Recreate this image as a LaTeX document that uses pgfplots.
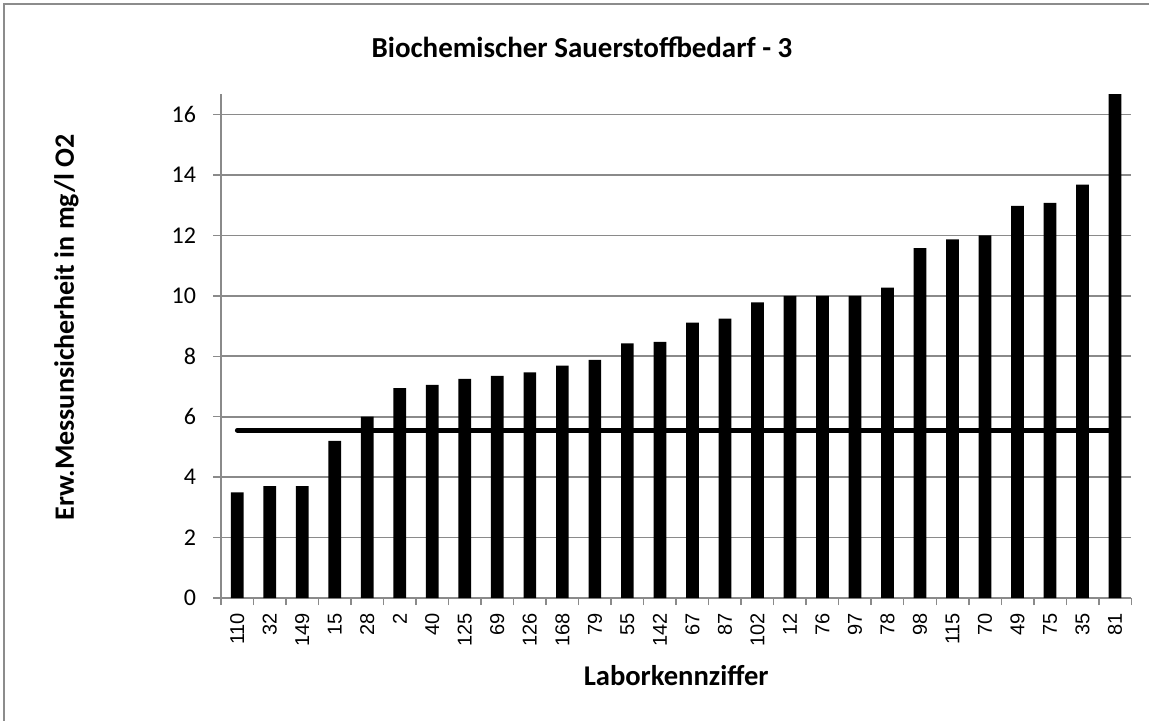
\documentclass[border=0pt]{standalone}
\usepackage{fontspec}
\setmainfont{Carlito}
\newfontfamily\arialfont{Liberation Sans}
\usepackage{pgfplots}
\pgfplotsset{compat=1.18}
\definecolor{gridgray}{HTML}{8A8A8A}
\definecolor{bordergray}{HTML}{8C8C8C}
\newcommand{\xl}[1]{{\arialfont\fontsize{10}{12}\selectfont #1}}
\begin{document}
\begin{tikzpicture}
\path[use as bounding box] (0,0) rectangle (574.5pt,360pt);
\draw[bordergray, line width=0.75pt] (2pt,-1pt) -- (2pt,358pt) -- (576pt,358pt);
\begin{axis}[
  at={(110.5pt,61pt)}, anchor=south west,
  scale only axis,
  width=455.15pt, height=251.85pt,
  xmin=-0.5, xmax=27.5,
  ymin=0, ymax=16.67,
  ytick={0,2,...,16},
  xtick={0,...,27},
  xticklabels={\xl{110},\xl{32},\xl{149},\xl{15},\xl{28},\xl{2},\xl{40},\xl{125},\xl{69},\xl{126},\xl{168},\xl{79},\xl{55},\xl{142},\xl{67},\xl{87},\xl{102},\xl{12},\xl{76},\xl{97},\xl{78},\xl{98},\xl{115},\xl{70},\xl{49},\xl{75},\xl{35},\xl{81}},
  minor xtick={-0.5,0.5,...,27.5},
  tick align=outside,
  major tick length=4pt,
  minor tick length=3.5pt,
  major x tick style={draw=none},
  major y tick style={draw=gridgray, line width=0.75pt},
  minor x tick style={draw=gridgray, line width=0.75pt},
  axis x line*=bottom,
  axis y line*=left,
  axis line style={draw=gridgray, line width=0.75pt, -},
  ymajorgrids,
  major grid style={draw=gridgray, line width=0.8pt},
  /pgf/number format/assume math mode=true,
  y tick label style={font=\fontsize{12}{14}\selectfont, xshift=-5pt},
  x tick label style={rotate=90, anchor=east},
  title={\textbf{Biochemischer Sauerstoffbedarf - 3}},
  title style={font=\fontsize{14.5}{16}\selectfont, at={(axis description cs:0.3966,1.069)}, anchor=center},
  xlabel={\textbf{Laborkennziffer}},
  xlabel style={font=\fontsize{14.3}{16}\selectfont, at={(axis description cs:0.5,-0.153)}, anchor=center},
  ylabel={\textbf{Erw.Messunsicherheit in mg/l O2}},
  ylabel style={font=\fontsize{14}{16}\selectfont, at={(axis description cs:-0.1697,0.537)}, anchor=center, rotate=0},
  clip=true,
]
\addplot[ybar, bar width=6.35pt, fill=black, draw=none] coordinates {
(0,3.5) (1,3.7) (2,3.7) (3,5.2) (4,6.0) (5,6.95) (6,7.05) (7,7.25) (8,7.35) (9,7.47)
(10,7.69) (11,7.88) (12,8.43) (13,8.48) (14,9.11) (15,9.25) (16,9.78) (17,10.0) (18,10.0) (19,10.0)
(20,10.27) (21,11.58) (22,11.87) (23,12.0) (24,12.98) (25,13.08) (26,13.68) (27,16.7)
};
\addplot[black, line width=2.35pt, line cap=round, mark=none] coordinates {(0,5.55) (27,5.55)};
\end{axis}
\end{tikzpicture}
\end{document}
